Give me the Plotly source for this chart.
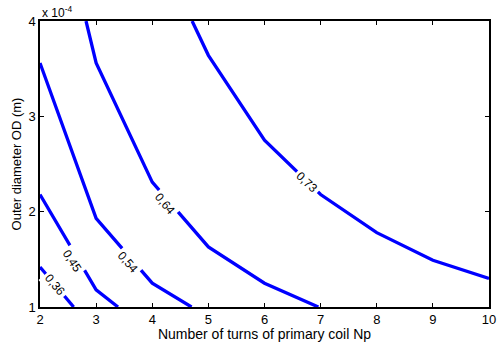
import plotly.graph_objects as go

# Contour levels and their polylines (x = Np, y = OD in units of 1e-4 m)
levels = ["0,36", "0,45", "0,54", "0,64", "0,73"]
x036 = [2, 2.6]
y036 = [1.42, 1.0]
x045 = [2, 3, 3.39]
y045 = [2.18, 1.18, 1.0]
x054 = [2, 3, 4, 4.70]
y054 = [3.56, 1.93, 1.25, 1.0]
x064 = [2.82, 3, 4, 5, 6, 6.96]
y064 = [4.0, 3.56, 2.31, 1.63, 1.25, 1.0]
x073 = [4.71, 5, 6, 7, 8, 9, 10]
y073 = [4.0, 3.64, 2.75, 2.18, 1.78, 1.49, 1.30]

# label positions and angles
lab_x = [2.27, 2.57, 3.56, 4.23, 6.75]
lab_y = [1.23, 1.48, 1.47, 2.08, 2.31]
lab_ang = [50, 57, 49, 50, 43]

xs = [x036, x045, x054, x064, x073]
ys = [y036, y045, y054, y064, y073]

xticks = [2, 3, 4, 5, 6, 7, 8, 9, 10]
yticks = [1, 2, 3, 4]

FONT = "Liberation Sans, Arial"

fig = go.Figure()
for xv, yv in zip(xs, ys):
    fig.add_trace(go.Scatter(x=xv, y=yv, mode="lines",
                             line=dict(color="#0000FF", width=3.3),
                             showlegend=False, hoverinfo="skip"))

for t, lx, ly, a in zip(levels, lab_x, lab_y, lab_ang):
    fig.add_annotation(x=lx, y=ly, text=t, showarrow=False, textangle=a,
                       bgcolor="white", borderpad=2,
                       font=dict(family=FONT, size=12, color="black"))

fig.add_annotation(xref="paper", yref="paper", x=0.0, y=1.0, xanchor="left", yanchor="bottom",
                   text="x 10<sup>-4</sup>", showarrow=False, yshift=-1,
                   font=dict(family=FONT, size=12, color="black"))

axis_common = dict(showgrid=False, zeroline=False, showline=True, linecolor="black",
                   linewidth=1.5, mirror="allticks", ticks="inside", ticklen=4,
                   tickcolor="black", tickwidth=1, automargin=False,
                   tickfont=dict(family=FONT, size=13, color="black"))

fig.update_layout(
    width=497, height=342,
    margin=dict(l=40, r=8, t=21, b=35),
    plot_bgcolor="white", paper_bgcolor="white",
    xaxis=dict(range=[2, 10], tickvals=xticks, ticktext=[str(v) for v in xticks],
               title=dict(text="Number of turns of primary coil Np", standoff=0,
                          font=dict(family=FONT, size=14, color="black")),
               **axis_common),
    yaxis=dict(range=[1, 4], tickvals=yticks, ticktext=[str(v) for v in yticks],
               title=dict(text="Outer diameter OD (m)", standoff=4,
                          font=dict(family=FONT, size=13, color="black")),
               **axis_common),
)

fig.write_html("out.html")
